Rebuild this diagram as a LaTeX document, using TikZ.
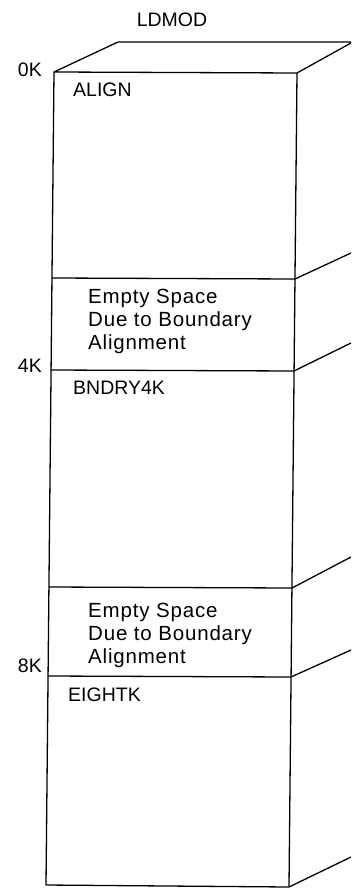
\documentclass[tikz,border=0pt]{standalone}
\usepackage{fontspec}
\setmainfont{Liberation Sans}
\newfontfamily\spacedfont[LetterSpace=4]{Liberation Sans}
\begin{document}
\begin{tikzpicture}[x=1pt,y=-1pt]
\tikzset{
  edge/.style={draw=black,line width=1.3pt,line join=round},
  lab/.style={inner sep=0pt,font=\fontsize{19.5}{23}\selectfont},
  note/.style={inner sep=0pt,align=left,font=\spacedfont\fontsize{20.5}{23}\selectfont}
}
\useasboundingbox (0,0) rectangle (351,888);
\clip (0,0) rectangle (351,888);
% corners
\coordinate (TL) at (54,72);
\coordinate (TR) at (297,73);
\coordinate (BKL) at (118,42);
\coordinate (BKR) at (351,42);
\coordinate (TRe) at (351,43);
\coordinate (D1L) at (52,278);
\coordinate (D1R) at (295,279);
\coordinate (D1e) at (351,253);
\coordinate (D2L) at (51,370);
\coordinate (D2R) at (294,371);
\coordinate (D2e) at (351,343);
\coordinate (D3L) at (49,587);
\coordinate (D3R) at (292,588);
\coordinate (D3e) at (351,557);
\coordinate (D4L) at (48,676);
\coordinate (D4R) at (291,677);
\coordinate (D4e) at (351,650);
\coordinate (BL) at (46,885);
\coordinate (BR) at (289,887);
\coordinate (Be) at (351,857);
% box outline
\draw[edge] (BKR) -- (BKL) -- (TL) -- (TR) -- (TRe);
\draw[edge] (TL) -- (BL) -- (BR) -- (Be);
\draw[edge] (TR) -- (BR);
\draw[edge] (D1L) -- (D1R) -- (D1e);
\draw[edge] (D2L) -- (D2R) -- (D2e);
\draw[edge] (D3L) -- (D3R) -- (D3e);
\draw[edge] (D4L) -- (D4R) -- (D4e);
% labels
\node[lab,anchor=base] (title) at (172,27) {LDMOD};
\node[lab,anchor=base east] (k0) at (42,77) {0K};
\node[lab,anchor=base east] (k4) at (42,372) {4K};
\node[lab,anchor=base east] (k8) at (42,672) {8K};
\node[lab,anchor=base west] (align) at (73,97) {ALIGN};
\node[lab,anchor=base west] (bndry) at (73,394) {BNDRY4K};
\node[lab,anchor=base west] (eightk) at (68,701) {EIGHTK};
\node[note,anchor=north west] (empty1) at (88,289) {Empty Space\\Due to Boundary\\Alignment};
\node[note,anchor=north west] (empty2) at (88,603) {Empty Space\\Due to Boundary\\Alignment};
\end{tikzpicture}
\end{document}
